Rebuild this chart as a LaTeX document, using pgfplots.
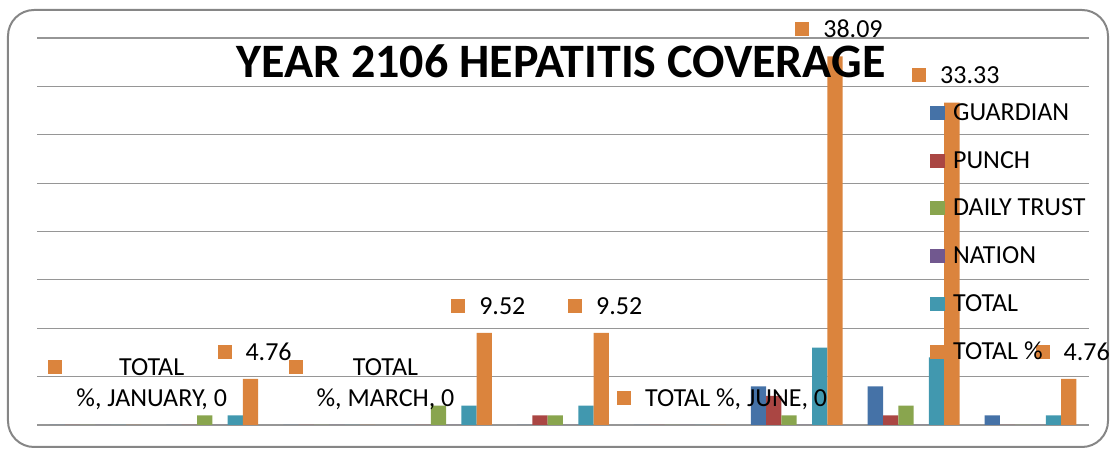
\documentclass[border=0pt]{standalone}
\usepackage{pgfplots}
\pgfplotsset{compat=1.18}
\usepackage{fontspec}
\setmainfont{Carlito}
\definecolor{cguard}{RGB}{69,114,167}
\definecolor{cpunch}{RGB}{170,70,67}
\definecolor{cdt}{RGB}{137,165,78}
\definecolor{cnation}{RGB}{113,88,143}
\definecolor{ctotal}{RGB}{65,152,175}
\definecolor{cpct}{RGB}{219,132,61}
\definecolor{cgrid}{RGB}{150,150,150}
\definecolor{cframe}{RGB}{134,134,134}
\newcommand{\mk}{\raisebox{1.5pt}{\textcolor{cpct}{\rule{14pt}{14pt}}}\hspace{14pt}}
\newcommand{\lb}[1]{\raisebox{0pt}[\height][\dimexpr\depth-9pt\relax]{\mk\begin{tabular}[t]{@{}c@{}}#1\end{tabular}}}
\expandafter\def\csname lab-jan\endcsname{\lb{TOTAL\\\%, JANUARY, 0}}
\expandafter\def\csname lab-feb\endcsname{\lb{4.76}}
\expandafter\def\csname lab-mar\endcsname{\lb{TOTAL\\\%, MARCH, 0}}
\expandafter\def\csname lab-apr\endcsname{\lb{9.52}}
\expandafter\def\csname lab-may\endcsname{\lb{9.52}}
\expandafter\def\csname lab-jun\endcsname{\lb{TOTAL \%, JUNE, 0}}
\expandafter\def\csname lab-jul\endcsname{\lb{38.09}}
\expandafter\def\csname lab-aug\endcsname{\lb{33.33}}
\expandafter\def\csname lab-sep\endcsname{\lb{4.76}}
\begin{document}
\begin{tikzpicture}
\useasboundingbox (-37pt,-24pt) rectangle (1074pt,425pt);
\draw[cframe, line width=2pt, rounded corners=26pt] (-29pt,-22pt) rectangle (1071pt,415pt);
\begin{axis}[
  width=1052pt, height=387pt, scale only axis,
  xmin=0.5, xmax=9.5, ymin=0, ymax=40,
  ybar=0pt, bar width=15.3pt,
  xtick=\empty, ytick={0,5,...,40}, yticklabels={},
  major tick length=0pt,
  ymajorgrids, grid style={cgrid, line width=1.2pt},
  axis line style={draw=none},
  clip=false,
  legend style={at={(0.849,0.834)}, anchor=north west, draw=none, fill=none,
    inner sep=0pt, outer sep=0pt, row sep=24.8pt, column sep=8pt,
    font=\fontsize{26}{31}\selectfont,
    nodes={inner sep=0pt, text height=18pt, text depth=5pt}},
  legend cell align=left,
  legend image code/.code={\fill[#1] (0pt,-6pt) rectangle (15pt,8pt);},
]
\addplot[fill=cguard, draw=none] coordinates {(1,0) (2,0) (3,0) (4,0) (5,0) (6,0) (7,4) (8,4) (9,1)};
\addplot[fill=cpunch, draw=none] coordinates {(1,0) (2,0) (3,0) (4,0) (5,1) (6,0) (7,3) (8,1) (9,0)};
\addplot[fill=cdt, draw=none] coordinates {(1,0) (2,1) (3,0) (4,2) (5,1) (6,0) (7,1) (8,2) (9,0)};
\addplot[fill=cnation, draw=none] coordinates {(1,0) (2,0) (3,0) (4,0) (5,0) (6,0) (7,0) (8,0) (9,0)};
\addplot[fill=ctotal, draw=none] coordinates {(1,0) (2,1) (3,0) (4,2) (5,2) (6,0) (7,8) (8,7) (9,1)};
\addplot[fill=cpct, draw=none, point meta=explicit symbolic,
  nodes near coords={\csname lab-\pgfplotspointmeta\endcsname},
  every node near coord/.append style={anchor=south, inner sep=0pt, outer sep=0pt,
    yshift=18.4pt, xshift=4pt, text=black, font=\fontsize{26}{31}\selectfont}]
  coordinates {(1,0) [jan] (2,4.76) [feb] (3,0) [mar] (4,9.52) [apr] (5,9.52) [may]
    (6,0) [jun] (7,38.09) [jul] (8,33.33) [aug] (9,4.76) [sep]};
\legend{GUARDIAN, PUNCH, DAILY TRUST, NATION, TOTAL, TOTAL \%}
\node[font=\fontsize{48}{57}\selectfont\bfseries, text=black, inner sep=0pt] at (rel axis cs:0.498,0.940) {YEAR 2106 HEPATITIS COVERAGE};
\end{axis}
\end{tikzpicture}
\end{document}
